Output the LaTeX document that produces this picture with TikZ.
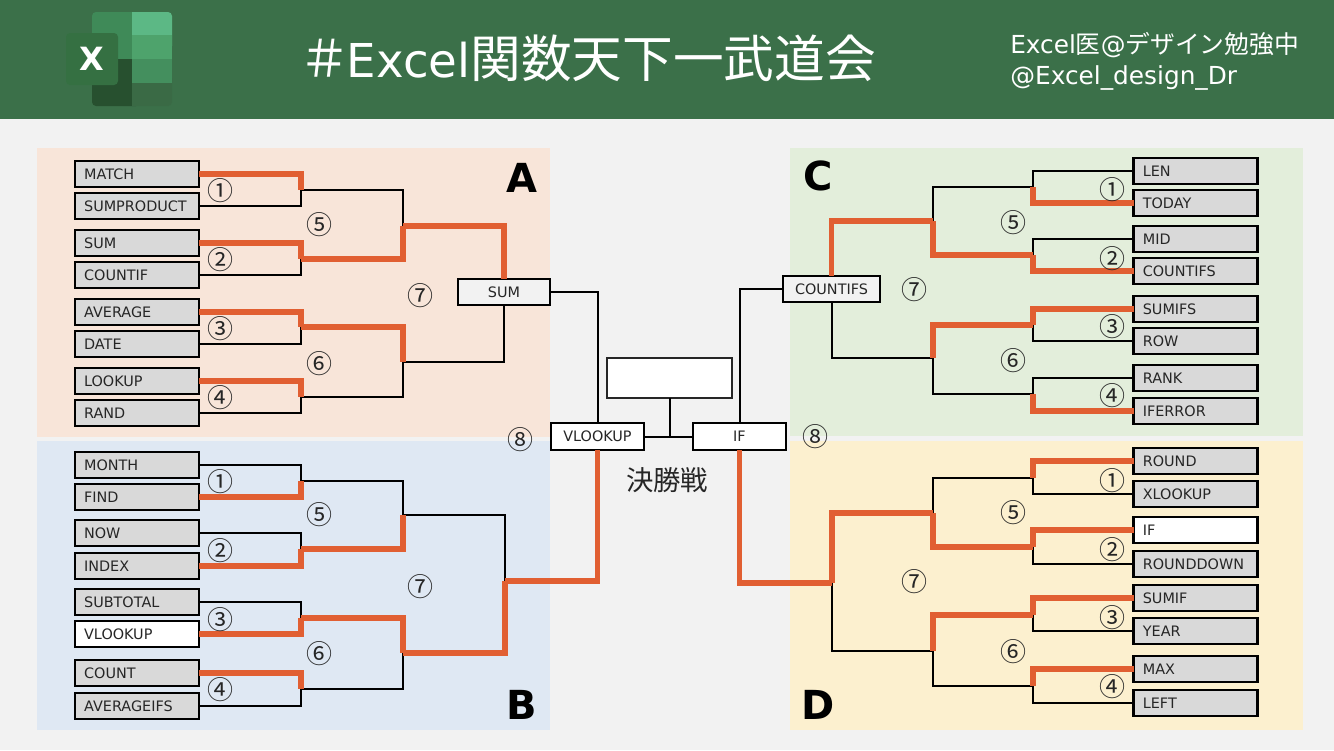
\documentclass[tikz,border=0pt]{standalone}
\usepackage{fontspec}
\setmainfont{DejaVu Sans}
\newfontfamily\cjk{Noto Sans CJK JP}

\definecolor{headgreen}{HTML}{3B7049}
\definecolor{pagegray}{HTML}{F2F2F2}
\definecolor{zonea}{HTML}{F8E5D9}
\definecolor{zoneb}{HTML}{DFE8F3}
\definecolor{zonec}{HTML}{E3EEDB}
\definecolor{zoned}{HTML}{FCF0CF}
\definecolor{winred}{HTML}{E15F32}
\definecolor{boxgray}{HTML}{D9D9D9}
\definecolor{inkgray}{HTML}{262626}
\definecolor{logotl}{HTML}{3F8A58}
\definecolor{logotr}{HTML}{5CB885}
\definecolor{logomr}{HTML}{4EA36C}
\definecolor{logolr}{HTML}{448F5E}
\definecolor{logobl}{HTML}{27502F}
\definecolor{logobr}{HTML}{3A6A45}
\definecolor{logox}{HTML}{357042}

\tikzset{
	entry/.style = {draw = black, line width = 1.7 pt, fill = boxgray, text = inkgray, outer sep = 0 pt,
		minimum height = 20 pt, text width = 79 pt, inner xsep = 7 pt, inner ysep = 0 pt, align = left,
		font = \fontsize{10.8}{12}\selectfont},
	pickentry/.style = {entry, fill = white},
	final/.style = {draw = black, line width = 1.7 pt, text = inkgray, outer sep = 0 pt, minimum height = 20 pt,
		inner sep = 0 pt, font = \fontsize{10.8}{12}\selectfont},
	lost/.style = {line width = 1.5 pt, black},
	won/.style = {line width = 3.8 pt, winred},
	num/.style = {inner sep = 0 pt, text = inkgray, yshift = -0.75 pt, font = \cjk\fontsize{19.5}{20}\selectfont},
	zoneletter/.style = {inner sep = 0 pt, text = black, font = \fontsize{30}{36}\selectfont\bfseries}
}

\begin{document}
\begin{tikzpicture}[x = 0.75 pt, y = -0.75 pt]

	\useasboundingbox (0, 0) rectangle (1334, 750);

	% Page + header

	\fill [pagegray] (0, 0) rectangle (1334, 750);
	\fill [headgreen] (0, 0) rectangle (1334, 119);

	% Excel logo

	\fill [rounded corners = 3 pt, logotl] (92, 12) rectangle (140, 70);
	\fill [rounded corners = 3 pt, logotr] (120, 12) rectangle (172, 50);
	\fill [logotl] (120, 12) rectangle (132, 59);
	\fill [logomr] (132, 35) rectangle (172, 59);
	\fill [rounded corners = 3 pt, logobl] (92, 59) rectangle (140, 106);
	\fill [rounded corners = 3 pt, logobr] (120, 75) rectangle (172, 106);
	\fill [logobl] (120, 59) rectangle (132, 106);
	\fill [logolr] (132, 59) rectangle (172, 83);
	\fill [rounded corners = 3 pt, logox] (66, 33) rectangle (118, 85);
	\node [text = white, inner sep = 0 pt, font = \fontsize{24}{26}\selectfont\bfseries] (xmark) at (92, 59) {X};

	% Header texts

	\node [text = white, inner sep = 0 pt, anchor = west, font = \fontsize{35}{40}\selectfont] (title) at (305, 58)
		{{\cjk\fontsize{38}{40}\selectfont\hspace{-0.12em}＃\hspace{-0.06em}}Excel{\cjk\fontsize{38}{40}\selectfont 関数天下一武道会}};
	\node [text = white, inner sep = 0 pt, anchor = west, align = left, font = \fontsize{18.6}{23.3}\selectfont] (author) at (1010, 61)
		{Excel{\cjk 医}@{\cjk デザイン勉強中}\\@Excel\_design\_Dr};

	% Zones

	\fill [zonea] (37, 148) rectangle (550, 437);
	\fill [zoneb] (37, 441) rectangle (550, 730);
	\fill [zonec] (790, 148) rectangle (1303, 436);
	\fill [zoned] (790, 441) rectangle (1303, 730);

	\node [zoneletter] (lettera) at (522, 178) {A};
	\node [zoneletter] (letterb) at (522, 705) {B};
	\node [zoneletter] (letterc) at (818, 176) {C};
	\node [zoneletter] (letterd) at (818, 705) {D};

	% Entries

	\foreach \n/\y/\t in {a1/174/MATCH, a2/206/SUMPRODUCT, a3/243/SUM, a4/275/COUNTIF,
			a5/312/AVERAGE, a6/344/DATE, a7/381/LOOKUP, a8/413/RAND,
			b1/465/MONTH, b2/497/FIND, b3/533/NOW, b4/566/INDEX,
			b5/602/SUBTOTAL, b7/673/COUNT, b8/706/AVERAGEIFS}
		\node [entry] (\n) at (136.8, \y) {\t};

	\foreach \n/\y/\t in {c1/171/LEN, c2/203/TODAY, c3/239/MID, c4/271/COUNTIFS,
			c5/309/SUMIFS, c6/341/ROW, c7/378/RANK, c8/411/IFERROR,
			d1/461/ROUND, d2/494/XLOOKUP, d4/564/ROUNDDOWN,
			d5/598/SUMIF, d6/631/YEAR, d7/669/MAX, d8/703/LEFT}
		\node [entry] (\n) at (1195.5, \y) {\t};

	\node [pickentry] (b6) at (136.8, 634) {VLOOKUP};
	\node [pickentry] (d3) at (1195.5, 530) {IF};

	% Later rounds

	\node [final, fill = pagegray, minimum width = 69 pt] (sum) at (504, 292) {SUM};
	\node [final, fill = pagegray, minimum width = 73 pt] (countifs) at (831.5, 289) {COUNTIFS};
	\node [final, fill = white, minimum width = 69.5 pt] (vlookup) at (597.5, 436.5) {VLOOKUP};
	\node [final, fill = white, minimum width = 69.5 pt] (if) at (739.5, 436.5) {IF};
	\node [draw = inkgray, line width = 1.4 pt, fill = white, inner sep = 0 pt, outer sep = 0 pt,
		minimum width = 94 pt, minimum height = 30 pt] (champ) at (669.5, 378) {};

	% Junctions

	\foreach \j/\x/\y in {ja1/301/190, ja2/301/259, ja3/301/327, ja4/301/397,
			jb1/301/481, jb2/301/549, jb3/301/618, jb4/301/689,
			jc1/1033/187, jc2/1033/255, jc3/1033/325, jc4/1033/394,
			jd1/1033/478, jd2/1033/547, jd3/1033/615, jd4/1033/686,
			sa1/403/226, sa2/403/362, sb1/403/515, sb2/403/653,
			sc1/933/221, sc2/933/358, sd1/933/513, sd2/933/651,
			qb/505/581, qd/832/583}
		\coordinate (\j) at (\x, \y);

	% Losers first, winners on top

	\foreach \l/\j in {a2/ja1, a4/ja2, a6/ja3, a8/ja4, b1/jb1, b3/jb2, b5/jb3, b8/jb4,
			c1/jc1, c3/jc2, c6/jc3, c7/jc4, d2/jd1, d4/jd2, d6/jd3, d8/jd4}
		\draw [lost] (\l) -| (\j);

	\foreach \j/\s in {ja1/sa1, ja4/sa2, jb1/sb1, jb4/sb2, jc1/sc1, jc4/sc2, jd1/sd1, jd4/sd2}
		\draw [lost] (\j) -| (\s);

	\draw [lost] (sa2) -| (sum);
	\draw [lost] (sb1) -| (qb);
	\draw [lost] (sc2) -| (countifs);
	\draw [lost] (sd2) -| (qd);
	\draw [lost] (sum) -| (vlookup);
	\draw [lost] (countifs) -| (if);
	\draw [lost] (vlookup) -- (if);
	\draw [lost] (champ) |- (if);

	\foreach \w/\j in {a1/ja1, a3/ja2, a5/ja3, a7/ja4, b2/jb1, b4/jb2, b6/jb3, b7/jb4,
			c2/jc1, c4/jc2, c5/jc3, c8/jc4, d1/jd1, d3/jd2, d5/jd3, d7/jd4}
		\draw [won] (\w) -| (\j);

	\foreach \j/\s in {ja2/sa1, ja3/sa2, jb2/sb1, jb3/sb2, jc2/sc1, jc3/sc2, jd2/sd1, jd3/sd2}
		\draw [won] (\j) -| (\s);

	\draw [won] (sa1) -| (sum);
	\draw [won] (sb2) -| (qb);
	\draw [won] (sc1) -| (countifs);
	\draw [won] (sd1) -| (qd);
	\draw [won] (qb) -| (vlookup);
	\draw [won] (qd) -| (if);

	% Match numbers

	\foreach \x/\y/\t [count = \i] in {220/190/①, 220/259/②, 220/328/③, 220/397/④, 319/224/⑤, 319/363/⑥, 420/295/⑦, 520/439/⑧,
			220/481/①, 220/550/②, 220/619/③, 220/689/④, 319/514/⑤, 319/653/⑥, 420/586/⑦,
			1112/189/①, 1112/258/②, 1112/326/③, 1112/395/④, 1013/222/⑤, 1013/360/⑥, 914/289/⑦, 815/436/⑧,
			1112/480/①, 1112/549/②, 1112/617/③, 1112/686/④, 1013/512/⑤, 1013/651/⑥, 914/581/⑦}
		\node [num] (num\i) at (\x, \y) {\t};

	\node [text = inkgray, inner sep = 0 pt, font = \cjk\fontsize{20.5}{22}\selectfont] (finals) at (667, 480) {決勝戦};

\end{tikzpicture}
\end{document}
